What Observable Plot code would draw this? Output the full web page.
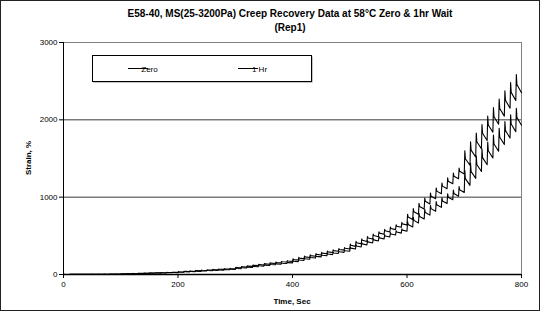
<!DOCTYPE html>
<html><head><meta charset="utf-8">
<script src="https://cdn.jsdelivr.net/npm/d3@7"></script>
<script src="https://cdn.jsdelivr.net/npm/@observablehq/plot@0.6"></script>
<style>
html,body{margin:0;padding:0;background:#fff;}
#chart{width:540px;height:311px;}
</style></head><body><div id="chart"></div>
<script>
const seriesNames = ["Zero", "1 Hr"];
const titleLines = ["E58-40, MS(25-3200Pa) Creep Recovery Data at 58°C Zero & 1hr Wait", "(Rep1)"];
const xLabel = "Time, Sec";
const yLabel = "Strain, %";
const xTicks = [0, 200, 400, 600, 800];
const yTicks = [0, 1000, 2000, 3000];
const testEnd = 800;
const creepSeconds = 1;
const probeSeconds = 2;

const cycleStarts = [
  0,10,20,30,40,50,60,70,80,90,
  100,110,120,130,140,150,160,170,180,190,
  200,210,220,230,240,250,260,270,280,290,
  300,310,320,330,340,350,360,370,380,390,
  400,410,420,430,440,450,460,470,480,490,
  500,510,520,530,540,550,560,570,580,590,
  600,610,620,630,640,650,660,670,680,690,
  700,710,720,730,740,750,760,770,780,790
];

// "Zero" wait: strain at start of each cycle (plus final), peak after creep, and 1 s after unloading
const zeroStart = [
  0,0.8,1.3,1.8,2.3,2.7,3.2,3.6,4.1,4.5,
  5.0,7.6,10.0,12.3,14.6,16.9,19.1,21.4,23.6,25.8,
  28.0,33.2,38.0,42.7,47.4,52.1,56.8,61.4,66.0,70.5,
  75.0,85.5,95.2,104.8,114.3,123.8,133.2,142.6,151.9,161.0,
  170,187.5,204,220.2,236.4,252.5,268.5,284.4,300,315.2,
  330,364,396,427,458,489,520,550,580,610,
  640,712,780,847,913,979,1044,1109,1173,1237,
  1300,1412,1520,1627,1733,1839,1944,2048,2151,2251,
  2350
];
const zeroPeak = [
  2.0,2.5,3.0,3.5,4.0,4.4,4.9,5.3,5.8,6.2,
  9.5,12.1,14.5,16.8,19.1,21.4,23.6,25.9,28.1,30.3,
  37.5,42.7,47.5,52.2,56.9,61.6,66.3,70.9,75.5,80.0,
  93,103.5,113.2,122.8,132.3,141.8,151.2,160.6,169.9,179,
  204,221.5,238,254.2,270.4,286.5,302.5,318.4,334,349.2,
  394,428,460,491,522,553,584,614,644,674,
  780,852,920,987,1053,1119,1184,1249,1313,1377,
  1600,1716,1828,1939,2049,2159,2268,2376,2483,2587
];
const zeroAfter1s = [
  1.3,1.8,2.3,2.8,3.3,3.7,4.2,4.6,5.1,5.5,
  8.5,10.9,13.3,15.6,17.9,20.1,22.4,24.6,26.8,29.0,
  35.1,40.1,44.9,49.6,54.3,59.0,63.6,68.2,72.8,77.3,
  88.9,98.9,108.6,118.1,127.6,137.1,146.5,155.8,165.0,174.0,
  194.9,211.9,228.2,244.4,260.6,276.6,292.5,308.3,323.7,338.6,
  378,410,442,473,504,535,565,595,625,655,
  743,812,880,946,1012,1078,1143,1207,1271,1335,
  1497,1608,1717,1826,1933,2041,2147,2252,2355,2457
];

// "1 Hr" wait
const hrStart = [
  0,0.6,1.0,1.4,1.8,2.2,2.6,3.0,3.3,3.7,
  4.0,6.3,8.4,10.4,12.4,14.4,16.3,18.2,20.1,22.0,
  24.0,28.6,32.8,36.9,41.0,45.1,49.1,53.1,57.1,61.1,
  65.0,74.5,83.2,91.8,100.3,108.8,117.2,125.6,133.9,142.0,
  150,166.5,182,197.2,212.4,227.5,242.5,257.4,272,286.2,
  300,329,356,382,408,434,460,485,510,535,
  560,615,667,718,768,818,868,917,966,1013,
  1060,1153,1243,1332,1420,1507,1594,1680,1764,1847,
  1930
];
const hrPeak = [
  1.7,2.0,2.4,2.8,3.2,3.6,4.0,4.4,4.7,5.1,
  8.0,10.3,12.4,14.4,16.4,18.4,20.3,22.2,24.1,26.0,
  32.5,37.1,41.3,45.4,49.5,53.6,57.6,61.6,65.6,69.6,
  81,90.5,99.2,107.8,116.3,124.8,133.2,141.6,149.9,158,
  180,196.5,212,227.2,242.4,257.5,272.5,287.4,302,316.2,
  356,385,412,438,464,490,516,541,566,591,
  685,740,792,843,893,943,993,1042,1091,1138,
  1345,1440,1532,1623,1713,1802,1891,1979,2065,2150
];
const hrAfter1s = [
  1.1,1.5,1.9,2.3,2.7,3.1,3.5,3.8,4.2,4.5,
  7.1,9.3,11.3,13.3,15.3,17.2,19.1,21.0,22.9,24.9,
  30.4,34.7,38.9,43.0,47.1,51.1,55.1,59.1,63.1,67.1,
  77.4,86.5,95.1,103.7,112.2,120.6,129.0,137.4,145.6,153.6,
  172.6,188.5,203.9,219.1,234.2,249.3,264.2,278.9,293.3,307.3,
  341,369,396,422,448,474,499,524,549,574,
  647,700,751,802,852,902,951,1000,1048,1095,
  1239,1332,1422,1511,1600,1688,1775,1861,1945,2029
];

function build(name, start, peak, after) {
  const out = [];
  cycleStarts.forEach((t, k) => {
    out.push({series: name, t: t, v: start[k]});
    out.push({series: name, t: t + creepSeconds, v: peak[k]});
    out.push({series: name, t: t + probeSeconds, v: after[k]});
  });
  out.push({series: name, t: testEnd, v: start[cycleStarts.length]});
  return out;
}
const data = build(seriesNames[0], zeroStart, zeroPeak, zeroAfter1s)
  .concat(build(seriesNames[1], hrStart, hrPeak, hrAfter1s));

const font = "'Liberation Sans', Arial, Helvetica, sans-serif";

const chart = Plot.plot({
  width: 540, height: 311,
  marginLeft: 63, marginRight: 19, marginTop: 42, marginBottom: 37,
  style: {fontFamily: font, fontSize: "8px", background: "#fff", color: "#000", overflow: "visible"},
  x: {domain: [0, 800]},
  y: {domain: [0, 3000]},
  marks: [
    Plot.ruleY(yTicks.filter(d => d > 0 && d < 3000), {stroke: "#3a3a3a", strokeWidth: 1}),
    Plot.ruleY([3000], {stroke: "#808080", strokeWidth: 1}),
    Plot.ruleX([800], {stroke: "#808080", strokeWidth: 1}),
    Plot.line(data, {x: "t", y: "v", z: "series", stroke: "#000", strokeWidth: 1.1}),
    Plot.ruleX([0], {stroke: "#000", strokeWidth: 1}),
    Plot.ruleY([0], {stroke: "#000", strokeWidth: 1.5}),
    Plot.axisX({ticks: xTicks, tickSize: 4, tickPadding: 3, label: null, tickFormat: d => String(d), fill: "#000"}),
    Plot.axisY({ticks: yTicks, tickSize: 4, tickPadding: 2, label: null, tickFormat: d => String(d), fill: "#000"})
  ]
});
document.getElementById("chart").appendChild(chart);

const svg = d3.select(chart);
// outer border
svg.insert("rect", ":first-child")
  .attr("x", 0.5).attr("y", 0.5).attr("width", 539).attr("height", 310)
  .attr("fill", "#fff").attr("stroke", "#222").attr("stroke-width", 1);

// title
svg.append("text").attr("x", 290).attr("y", 17).attr("text-anchor", "middle")
  .attr("font-family", font).attr("font-size", 10).attr("font-weight", "bold").text(titleLines[0]);
svg.append("text").attr("x", 290).attr("y", 31).attr("text-anchor", "middle")
  .attr("font-family", font).attr("font-size", 10).attr("font-weight", "bold").text(titleLines[1]);

// axis titles
svg.append("text").attr("x", 292).attr("y", 303.5).attr("text-anchor", "middle")
  .attr("font-family", font).attr("font-size", 8).attr("font-weight", "bold").text(xLabel);
svg.append("text").attr("transform", "translate(30.5,158) rotate(-90)").attr("text-anchor", "middle")
  .attr("font-family", font).attr("font-size", 8).attr("font-weight", "bold").text(yLabel);

// legend
const lg = svg.append("g");
lg.append("rect").attr("x", 93.5).attr("y", 56.5).attr("width", 219).attr("height", 26)
  .attr("fill", "#888").attr("stroke", "none");
lg.append("rect").attr("x", 92.5).attr("y", 55.5).attr("width", 219).attr("height", 26)
  .attr("fill", "#fff").attr("stroke", "#000").attr("stroke-width", 1);
const legendItems = [{name: seriesNames[0], x: 128}, {name: seriesNames[1], x: 238}];
legendItems.forEach(it => {
  lg.append("path").attr("d", `M${it.x},68.5H${it.x + 20}`)
    .attr("stroke", "#000").attr("stroke-width", 1).attr("fill", "none");
  lg.append("text").attr("x", it.x + 21.5).attr("y", 71.5).attr("font-family", font)
    .attr("font-size", 8).attr("fill", "#000").text(it.name);
});
</script>
</body></html>
